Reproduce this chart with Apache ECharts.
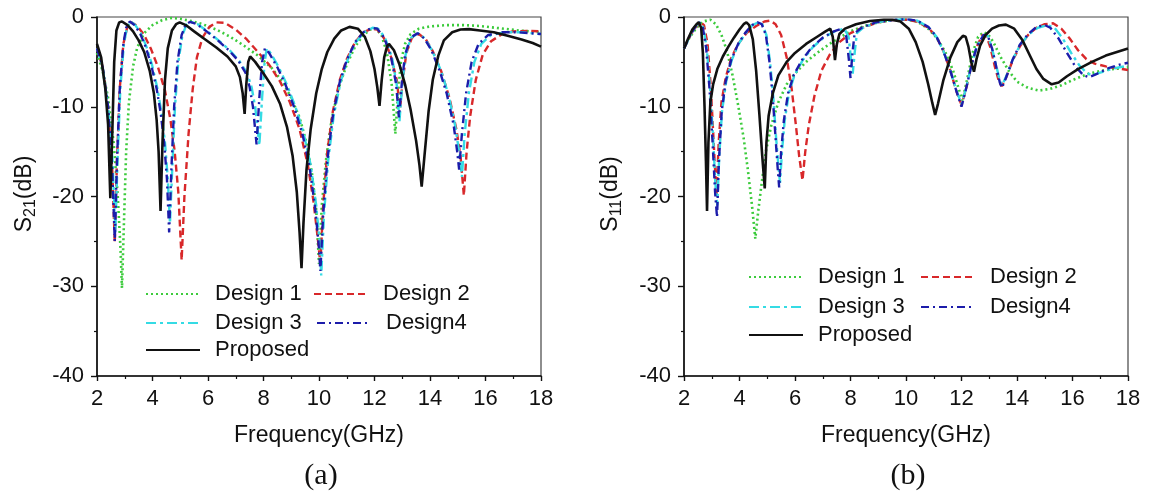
<!DOCTYPE html>
<html><head><meta charset="utf-8">
<script src="https://cdn.jsdelivr.net/npm/echarts@6/dist/echarts.min.js"></script>
<style>html,body{margin:0;padding:0;background:#fff}#c{width:1154px;height:496px}</style>
</head><body><div id="c"></div>
<script>
// ---- data (frequency GHz, dB) ----
const seriesNames = ['Design 1', 'Design 2', 'Design 3', 'Design4', 'Proposed'];
const xTicks = [2, 4, 6, 8, 10, 12, 14, 16, 18];
const yTicks = [-40, -30, -20, -10, 0];

// (a) S21
const s21_design1 = [[2.0,-4.0],[2.2,-6],[2.4,-9],[2.6,-14],[2.75,-20],[2.85,-26],[2.9,-30.2],[2.95,-25],[3.05,-15],[3.15,-9.5],[3.3,-5.5],[3.45,-3.4],[3.7,-1.8],[4.0,-0.9],[4.35,-0.35],[4.7,-0.1],[5.0,-0.2],[5.4,-0.45],[5.8,-0.8],[6.3,-1.4],[6.8,-2.2],[7.3,-3.2],[7.8,-4.3],[8.3,-5.7],[8.7,-7.3],[9.0,-9],[9.3,-11.2],[9.55,-14],[9.75,-17.5],[9.9,-21.5],[10.0,-27.5],[10.1,-21],[10.25,-16],[10.45,-11.5],[10.7,-8],[11.0,-5.3],[11.3,-3.3],[11.6,-2.0],[11.85,-1.4],[12.05,-1.3],[12.25,-2.0],[12.45,-4],[12.62,-7.5],[12.75,-13],[12.85,-8.5],[12.95,-5],[13.1,-3],[13.3,-1.9],[13.6,-1.3],[14.0,-1.05],[14.6,-0.9],[15.2,-0.9],[15.8,-1.0],[16.5,-1.25],[17.2,-1.5],[18,-1.7]];
const s21_design2 = [[2.0,-3.5],[2.2,-5.5],[2.4,-10],[2.55,-17],[2.64,-25.2],[2.72,-16],[2.82,-8],[2.95,-3],[3.1,-1.0],[3.25,-0.6],[3.45,-1.0],[3.7,-2.0],[3.95,-3.6],[4.2,-5.6],[4.45,-8.2],[4.65,-11.5],[4.8,-15],[4.93,-19.5],[5.05,-27.1],[5.15,-20],[5.3,-13],[5.45,-8],[5.6,-4.5],[5.8,-2.3],[6.05,-1.1],[6.3,-0.6],[6.6,-0.65],[7.0,-1.4],[7.4,-2.5],[7.8,-3.9],[8.2,-5.3],[8.6,-7.2],[8.95,-9.5],[9.3,-12.5],[9.6,-16.5],[9.8,-20.5],[9.95,-24.5],[10.05,-27.5],[10.15,-21],[10.3,-15],[10.5,-10.5],[10.75,-7],[11.0,-4.7],[11.3,-2.8],[11.6,-1.7],[11.9,-1.3],[12.1,-1.4],[12.35,-2.4],[12.6,-4.5],[12.8,-7],[12.92,-10.2],[13.02,-7],[13.15,-4],[13.35,-2.3],[13.6,-1.9],[13.85,-2.5],[14.1,-3.8],[14.4,-6],[14.7,-9],[14.95,-12.5],[15.1,-15.5],[15.22,-19.9],[15.32,-15],[15.45,-11],[15.65,-7],[15.9,-4.2],[16.2,-2.7],[16.6,-1.9],[17.0,-1.6],[17.5,-1.55],[18,-1.6]];
const s21_design3 = [[2.0,-3.5],[2.2,-5.5],[2.4,-10],[2.56,-16],[2.66,-24],[2.74,-16],[2.84,-8],[2.97,-3],[3.08,-1.2],[3.21,-0.5],[3.38,-0.9],[3.58,-1.8],[3.78,-3.3],[3.98,-5.3],[4.18,-8],[4.33,-10.8],[4.45,-14],[4.55,-18],[4.63,-23],[4.71,-17],[4.81,-10],[4.93,-5],[5.08,-2],[5.23,-0.8],[5.38,-0.55],[5.63,-0.8],[5.98,-1.6],[6.38,-2.6],[6.78,-3.7],[7.13,-4.9],[7.4,-6.2],[7.57,-7.8],[7.7,-10],[7.85,-14.3],[7.95,-9],[8.04,-5],[8.12,-3.5],[8.25,-4],[8.55,-5.6],[8.85,-7.6],[9.15,-10],[9.45,-13],[9.7,-16.5],[9.9,-21],[10.02,-25],[10.08,-28.8],[10.18,-22],[10.33,-16],[10.53,-11],[10.78,-7.2],[11.03,-4.8],[11.33,-2.8],[11.63,-1.7],[11.93,-1.2],[12.13,-1.3],[12.38,-2.3],[12.63,-4.5],[12.8,-7.5],[12.9,-11.6],[13.0,-7.5],[13.12,-4.2],[13.32,-2.3],[13.57,-1.8],[13.82,-2.4],[14.07,-3.7],[14.4,-6],[14.65,-8.5],[14.9,-12],[15.05,-15],[15.15,-17.8],[15.25,-13],[15.4,-8.5],[15.6,-5],[15.85,-3],[16.2,-2.0],[16.7,-1.7],[17.3,-1.7],[18,-1.9]];
const s21_design4 = [[2.0,-3.5],[2.2,-5.5],[2.4,-10],[2.55,-17],[2.64,-25],[2.72,-16],[2.82,-8],[2.95,-3],[3.05,-1.2],[3.18,-0.5],[3.35,-0.9],[3.55,-1.8],[3.75,-3.3],[3.95,-5.3],[4.15,-8],[4.3,-10.8],[4.42,-14],[4.52,-18],[4.6,-24],[4.68,-17],[4.78,-10],[4.9,-5],[5.05,-2],[5.2,-0.8],[5.35,-0.55],[5.6,-0.8],[5.95,-1.6],[6.35,-2.6],[6.75,-3.7],[7.1,-4.9],[7.35,-6.2],[7.5,-7.8],[7.62,-10],[7.75,-14.2],[7.85,-9],[7.95,-5],[8.05,-3.5],[8.2,-4],[8.5,-5.6],[8.8,-7.6],[9.1,-10],[9.4,-13],[9.65,-16.5],[9.85,-21],[9.98,-25],[10.05,-28.3],[10.15,-22],[10.3,-16],[10.5,-11],[10.75,-7.2],[11.0,-4.8],[11.3,-2.8],[11.6,-1.7],[11.9,-1.2],[12.1,-1.3],[12.35,-2.3],[12.6,-4.5],[12.78,-7.5],[12.88,-11.2],[12.98,-7.5],[13.1,-4.2],[13.3,-2.3],[13.55,-1.8],[13.8,-2.4],[14.05,-3.7],[14.35,-6],[14.6,-8.5],[14.85,-12],[14.98,-15],[15.05,-17],[15.15,-13],[15.3,-8.5],[15.5,-5],[15.75,-3],[16.1,-2.0],[16.6,-1.7],[17.2,-1.7],[18,-1.9]];
const s21_proposed = [[2.0,-3.0],[2.15,-4.5],[2.3,-8],[2.4,-12],[2.48,-20.2],[2.55,-13],[2.62,-5],[2.7,-1.5],[2.8,-0.6],[2.9,-0.5],[3.1,-0.9],[3.3,-1.6],[3.5,-2.6],[3.7,-3.9],[3.9,-6],[4.05,-8.5],[4.15,-11.5],[4.22,-15],[4.29,-21.6],[4.36,-14],[4.45,-7],[4.55,-3.5],[4.7,-1.5],[4.85,-0.8],[4.98,-0.6],[5.2,-0.9],[5.5,-1.6],[5.9,-2.5],[6.3,-3.4],[6.7,-4.4],[7.0,-5.5],[7.15,-6.7],[7.25,-8.5],[7.32,-10.8],[7.38,-7.5],[7.45,-5.0],[7.52,-4.4],[7.7,-5.0],[8.0,-6.3],[8.3,-7.7],[8.6,-9.7],[8.85,-12.3],[9.05,-15.5],[9.2,-19.5],[9.3,-24],[9.37,-28],[9.44,-23],[9.55,-17],[9.7,-12.5],[9.9,-8.5],[10.1,-5.8],[10.3,-3.9],[10.55,-2.4],[10.8,-1.5],[11.1,-1.1],[11.4,-1.3],[11.65,-2.2],[11.85,-3.8],[12.0,-5.8],[12.1,-7.8],[12.18,-9.9],[12.26,-7],[12.35,-4.5],[12.45,-3.3],[12.52,-3.0],[12.7,-3.7],[12.9,-5.3],[13.1,-7.5],[13.3,-10.3],[13.5,-13.8],[13.62,-16.5],[13.7,-18.9],[13.8,-15.5],[13.95,-10.5],[14.1,-7],[14.3,-4.3],[14.5,-2.6],[14.8,-1.7],[15.1,-1.4],[15.4,-1.35],[15.8,-1.5],[16.3,-1.7],[16.8,-2.1],[17.3,-2.5],[17.7,-2.9],[18,-3.3]];

// (b) S11
const s11_design1 = [[2.0,-3.5],[2.2,-2.3],[2.45,-1.2],[2.7,-0.5],[2.95,-0.3],[3.15,-0.8],[3.35,-2.0],[3.55,-3.8],[3.75,-6.5],[3.95,-9.8],[4.15,-13.5],[4.3,-17],[4.45,-21],[4.57,-24.7],[4.68,-21.5],[4.8,-18.5],[4.95,-15],[5.15,-12],[5.4,-9.5],[5.7,-7.5],[6.0,-6.3],[6.4,-5.0],[6.8,-4.0],[7.2,-3.1],[7.6,-2.3],[8.0,-1.6],[8.5,-1.0],[9.0,-0.6],[9.5,-0.35],[10.0,-0.3],[10.4,-0.5],[10.8,-1.3],[11.1,-2.3],[11.4,-3.8],[11.7,-6],[11.9,-8],[12.03,-9.3],[12.2,-7],[12.4,-4],[12.6,-2.2],[12.8,-1.7],[12.95,-1.9],[13.15,-2.8],[13.4,-4.4],[13.7,-6],[14.0,-7.2],[14.4,-7.9],[14.8,-8.2],[15.2,-8.0],[15.6,-7.6],[16.1,-6.9],[16.6,-6.3],[17.2,-5.9],[18,-5.6]];
const s11_design2 = [[2.0,-3.5],[2.2,-2.2],[2.4,-1.2],[2.6,-0.6],[2.72,-0.9],[2.85,-3],[2.97,-8],[3.07,-14],[3.17,-20],[3.25,-14],[3.35,-9.5],[3.5,-6.8],[3.7,-4.6],[3.95,-3.0],[4.25,-1.8],[4.6,-1.0],[4.9,-0.5],[5.1,-0.4],[5.3,-0.8],[5.5,-2.0],[5.7,-4.5],[5.88,-8],[6.03,-12],[6.15,-15.5],[6.27,-18.2],[6.37,-15],[6.5,-12],[6.7,-8.8],[6.95,-6],[7.25,-4.2],[7.6,-2.8],[8.0,-1.8],[8.5,-1.1],[9.0,-0.6],[9.5,-0.35],[10.0,-0.3],[10.4,-0.5],[10.8,-1.2],[11.1,-2.2],[11.35,-3.8],[11.6,-6],[11.82,-8.3],[12.0,-9.8],[12.15,-8.2],[12.35,-5.5],[12.55,-3.3],[12.75,-2.0],[12.9,-2.1],[13.05,-3.5],[13.2,-5.5],[13.35,-7.2],[13.45,-7.7],[13.6,-6.8],[13.85,-4.8],[14.1,-3.3],[14.4,-2.0],[14.7,-1.2],[15.0,-0.8],[15.3,-0.7],[15.6,-1.3],[15.9,-2.4],[16.2,-3.7],[16.5,-4.7],[16.8,-5.2],[17.2,-5.5],[17.6,-5.7],[18,-5.9]];
const s11_design3 = [[2.0,-3.5],[2.2,-2.2],[2.4,-1.1],[2.57,-0.6],[2.7,-1.2],[2.82,-3.5],[2.94,-8],[3.05,-13.5],[3.13,-18.5],[3.2,-21],[3.27,-15.5],[3.37,-10.5],[3.52,-7.2],[3.72,-4.8],[3.97,-3.0],[4.22,-1.8],[4.47,-0.9],[4.67,-0.6],[4.82,-0.8],[4.97,-2.0],[5.1,-5],[5.22,-9],[5.32,-13.5],[5.4,-16.5],[5.46,-18.5],[5.53,-15],[5.63,-11.5],[5.78,-8.5],[5.98,-6.5],[6.28,-4.8],[6.63,-3.4],[7.03,-2.3],[7.43,-1.6],[7.78,-1.3],[7.93,-2.2],[8.03,-5],[8.08,-6.3],[8.15,-4],[8.23,-1.8],[8.45,-1.2],[8.95,-0.6],[9.5,-0.35],[10.0,-0.25],[10.4,-0.4],[10.8,-1.1],[11.1,-2.2],[11.35,-3.8],[11.6,-6],[11.82,-8.2],[12.0,-9.7],[12.15,-8.1],[12.35,-5.5],[12.55,-3.3],[12.8,-2.0],[12.95,-2.1],[13.1,-3.5],[13.25,-5.4],[13.38,-7.1],[13.46,-7.6],[13.6,-6.7],[13.85,-4.7],[14.1,-3.2],[14.4,-2.0],[14.75,-1.2],[15.1,-0.9],[15.35,-1.2],[15.65,-2.4],[15.95,-4.0],[16.25,-5.4],[16.5,-6.2],[16.7,-6.5],[17.0,-6.2],[17.4,-5.8],[17.7,-5.6],[18,-5.4]];
const s11_design4 = [[2.0,-3.5],[2.2,-2.2],[2.4,-1.1],[2.55,-0.6],[2.68,-1.2],[2.8,-3.5],[2.92,-8],[3.03,-14],[3.12,-19.5],[3.19,-22.3],[3.26,-16],[3.36,-10.5],[3.5,-7.2],[3.7,-4.8],[3.95,-3.0],[4.2,-1.8],[4.45,-0.9],[4.65,-0.6],[4.8,-0.8],[4.95,-2.0],[5.08,-5],[5.2,-9],[5.3,-13.5],[5.38,-17],[5.43,-19],[5.5,-15],[5.6,-11.5],[5.75,-8.5],[5.95,-6.5],[6.25,-4.8],[6.6,-3.4],[7.0,-2.3],[7.4,-1.6],[7.7,-1.3],[7.85,-2.2],[7.95,-5],[8.0,-6.8],[8.07,-4],[8.15,-1.8],[8.4,-1.2],[8.9,-0.6],[9.5,-0.35],[10.0,-0.25],[10.4,-0.4],[10.8,-1.1],[11.1,-2.2],[11.35,-3.8],[11.6,-6],[11.82,-8.3],[12.0,-10],[12.15,-8.2],[12.35,-5.5],[12.55,-3.3],[12.8,-2.0],[12.95,-2.1],[13.1,-3.5],[13.25,-5.5],[13.38,-7.3],[13.46,-7.9],[13.6,-6.8],[13.85,-4.7],[14.1,-3.1],[14.4,-1.9],[14.7,-1.1],[15.0,-0.9],[15.2,-1.2],[15.5,-2.4],[15.8,-4.0],[16.1,-5.5],[16.4,-6.5],[16.6,-6.7],[16.9,-6.3],[17.3,-5.7],[17.7,-5.3],[18,-5.1]];
const s11_proposed = [[2.0,-3.5],[2.15,-2.4],[2.3,-1.4],[2.45,-0.8],[2.53,-0.6],[2.62,-1.2],[2.68,-4],[2.74,-10],[2.79,-16],[2.83,-21.6],[2.88,-14],[2.95,-9.5],[3.05,-7.5],[3.2,-5.8],[3.4,-4.4],[3.6,-3.3],[3.8,-2.3],[4.0,-1.4],[4.15,-0.8],[4.25,-0.6],[4.35,-0.9],[4.48,-2.5],[4.6,-6],[4.72,-11],[4.82,-15.5],[4.91,-19.1],[4.97,-14],[5.05,-11],[5.2,-8.5],[5.4,-6.5],[5.7,-5],[6.0,-4],[6.4,-3],[6.8,-2.2],[7.1,-1.6],[7.27,-1.3],[7.36,-2.2],[7.44,-4.8],[7.51,-3],[7.6,-1.9],[7.8,-1.3],[8.2,-0.8],[8.7,-0.45],[9.2,-0.3],[9.5,-0.3],[9.8,-0.5],[10.1,-1.3],[10.35,-2.8],[10.6,-5],[10.8,-7.5],[10.95,-9.6],[11.05,-10.9],[11.15,-9.7],[11.35,-7],[11.6,-4.5],[11.85,-2.8],[12.05,-2.1],[12.15,-2.2],[12.25,-3.3],[12.35,-5],[12.45,-6.1],[12.54,-4.7],[12.67,-3.2],[12.87,-2.0],[13.1,-1.3],[13.35,-0.95],[13.6,-0.85],[13.9,-1.3],[14.2,-2.6],[14.45,-4.2],[14.7,-5.8],[14.95,-6.9],[15.25,-7.5],[15.5,-7.3],[15.8,-6.6],[16.2,-5.8],[16.7,-5.0],[17.2,-4.3],[17.6,-3.9],[18,-3.5]];

// ---- styles ----
const styles = {
  'Design 1': {color: '#3ccb3c', type: [2, 3], width: 2.6},
  'Design 2': {color: '#d8282a', type: [7, 4], width: 2.4},
  'Design 3': {color: '#35dbe4', type: [10, 4, 3, 4], width: 2.4},
  'Design4':  {color: '#1c1caa', type: [8, 4, 2, 4], width: 2.4},
  'Proposed': {color: '#111111', type: 'solid', width: 2.6}
};
const dataA = [s21_design1, s21_design2, s21_design3, s21_design4, s21_proposed];
const dataB = [s11_design1, s11_design2, s11_design3, s11_design4, s11_proposed];

const FONT = 'Liberation Sans, Arial, sans-serif';
const grids = [
  {left: 97, top: 17, width: 444, height: 359},
  {left: 684, top: 17, width: 444, height: 359}
];

function xAxisFor(i) {
  return {
    type: 'value', gridIndex: i, min: xTicks[0], max: xTicks[xTicks.length - 1], interval: 2,
    name: 'Frequency(GHz)', nameLocation: 'middle', nameGap: 48,
    nameTextStyle: {fontFamily: FONT, fontSize: 23, color: '#111'},
    axisLine: {onZero: false, lineStyle: {color: '#111', width: 1.6}},
    axisTick: {show: true, inside: false, length: 5, lineStyle: {color: '#111', width: 1.4}},
    minorTick: {show: true, splitNumber: 2, length: 3, lineStyle: {color: '#111', width: 1.2}},
    splitLine: {show: false},
    axisLabel: {fontFamily: FONT, fontSize: 22, color: '#111', margin: 12}
  };
}
function yAxisFor(i) {
  return {
    type: 'value', gridIndex: i, min: yTicks[0], max: yTicks[yTicks.length - 1], interval: 10,
    axisLine: {onZero: false, lineStyle: {color: '#111', width: 1.6}},
    axisTick: {show: true, inside: false, length: 6, lineStyle: {color: '#111', width: 1.4}},
    minorTick: {show: true, splitNumber: 2, length: 3, lineStyle: {color: '#111', width: 1.2}},
    splitLine: {show: false},
    axisLabel: {fontFamily: FONT, fontSize: 22, color: '#111', margin: 13}
  };
}

const series = [];
[dataA, dataB].forEach((set, gi) => {
  set.forEach((d, k) => {
    const name = seriesNames[k];
    const st = styles[name];
    series.push({
      name: name, type: 'line', xAxisIndex: gi, yAxisIndex: gi, data: d,
      symbol: 'none', showSymbol: false, smooth: false, animation: false,
      color: st.color,
      lineStyle: {color: st.color, type: st.type, width: st.width},
      z: 2 + k
    });
  });
});

// legends: [name, left, centerY]
const legendPos = [
  ['Design 1', 145, 294], ['Design 2', 313, 294], ['Design 3', 145, 323], ['Design4', 316, 323], ['Proposed', 145, 350],
  ['Design 1', 748, 277], ['Design 2', 920, 277], ['Design 3', 748, 307], ['Design4', 920, 307], ['Proposed', 748, 335]
];
const legends = legendPos.map(p => ({
  data: [p[0]], left: p[1], top: p[2] - 12, padding: 0, selectedMode: false,
  itemWidth: 54, itemHeight: 14,
  itemStyle: {opacity: 0},
  textStyle: {fontFamily: FONT, fontSize: 22, color: '#111', lineHeight: 24, padding: [0, 0, 0, 10]}
}));

const yTitle = (x, y, sub) => ({
  type: 'text', x: x, y: y, rotation: Math.PI / 2,
  style: {
    text: '{a|S}{b|' + sub + '}{a|(dB)}', align: 'center', verticalAlign: 'middle',
    rich: {
      a: {fontFamily: FONT, fontSize: 23, fill: '#111', verticalAlign: 'top', lineHeight: 28},
      b: {fontFamily: FONT, fontSize: 16, fill: '#111', verticalAlign: 'top', lineHeight: 28, padding: [10, 0, 0, 0]}
    }
  }
});

const option = {
  backgroundColor: '#fff',
  animation: false,
  grid: grids.map(g => Object.assign({show: true, borderColor: '#444', borderWidth: 1.2, backgroundColor: 'transparent'}, g)),
  xAxis: [xAxisFor(0), xAxisFor(1)],
  yAxis: [yAxisFor(0), yAxisFor(1)],
  legend: legends,
  series: series,
  graphic: [
    yTitle(27, 194, '21'), yTitle(613, 194, '11'),
    {type: 'text', x: 321, y: 476, style: {text: '(a)', fontFamily: 'Liberation Serif, Times New Roman, serif', fontSize: 30, fill: '#111', align: 'center', verticalAlign: 'middle'}},
    {type: 'text', x: 908, y: 476, style: {text: '(b)', fontFamily: 'Liberation Serif, Times New Roman, serif', fontSize: 30, fill: '#111', align: 'center', verticalAlign: 'middle'}}
  ]
};
const chart = echarts.init(document.getElementById('c'), null, {renderer: 'canvas'});
chart.setOption(option);
</script></body></html>
